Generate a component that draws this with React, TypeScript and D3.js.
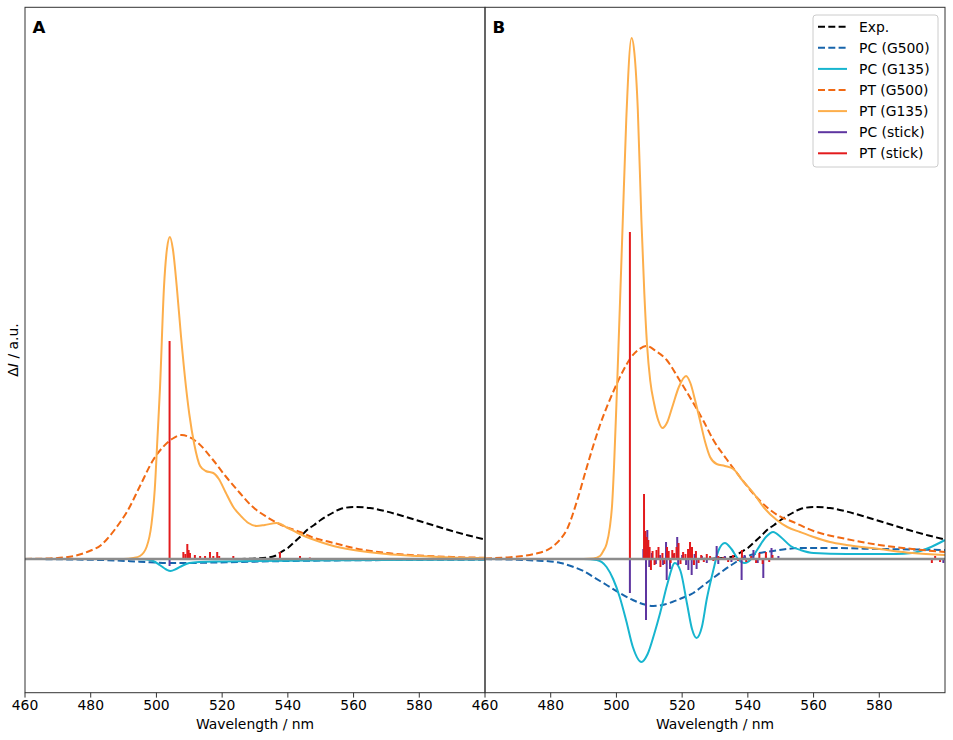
import React from "react";
import * as d3 from "d3";

type Pt = [number, number];

// ---------- DATA (wavelength nm, ΔI a.u.) ----------
const xTicks = [460, 480, 500, 520, 540, 560, 580];
const panelLetters = ["A", "B"];
const legendLabels = ["Exp.", "PC (G500)", "PC (G135)", "PT (G500)", "PT (G135)", "PC (stick)", "PT (stick)"];

const expData: Pt[] = [
  [525, 0], [530, 0.5], [534, 1.5], [536, 3], [538, 7], [540, 11], [542, 17], [544, 23], [546, 29.5],
  [548, 34], [550, 39], [553, 45], [556, 50], [560, 52], [565, 51], [570, 47.5], [575, 43], [580, 38],
  [585, 33], [590, 28], [595, 23.5], [600, 19.5],
];

// Panel A
const pcG500A: Pt[] = [
  [460, 0], [475, -0.5], [485, -1.2], [492, -2.2], [498, -3.2], [504, -4], [510, -4], [518, -3.5],
  [528, -2.8], [540, -2], [555, -1.4], [575, -1], [600, -0.6],
];
const pcG135A: Pt[] = [
  [460, 0], [494, 0], [497, -0.5], [499, -2], [501, -6], [503, -10.5], [504.3, -12], [506, -10],
  [508, -6.5], [510, -4], [513, -3], [520, -2.5], [530, -2], [545, -1.5], [570, -1], [600, -0.6],
];
const ptG500A: Pt[] = [
  [460, 0.1], [465, 0.3], [470, 1], [475, 3], [480, 8.5], [483, 13.5], [485, 20], [487, 28],
  [489, 37], [491, 47], [495, 73], [499, 99], [502, 112], [505, 120.5], [507.7, 124], [510, 122],
  [513, 115], [517, 100], [521, 83], [525.4, 66], [529, 53], [533.6, 42], [538, 34], [543.7, 27],
  [548, 21], [552.8, 17], [560, 11], [570, 6], [580, 3.5], [590, 2], [600, 1.2],
];
const ptG135A: Pt[] = [
  [460, 0], [490, 0], [493, 1], [495, 3], [497, 12], [498.5, 35], [499.5, 70], [500.3, 120],
  [501.1, 172], [502.3, 272], [503.2, 310], [504.1, 322], [505, 310], [506.2, 272], [507.5, 222],
  [509, 172], [510, 145], [511.5, 115], [513.3, 93], [515, 88], [517.3, 86], [519, 80], [521, 67],
  [523.4, 52], [526, 42], [528, 36], [530.5, 33], [533, 34], [536.6, 36], [540, 31], [543, 26],
  [545.7, 22], [549, 18], [552.8, 14], [560, 9], [570, 5], [580, 3], [590, 1.5], [600, 1],
];
const pcStickA: Pt[] = [[504.0, -7], [509.4, -1], [537.6, -1]];
const ptStickA: Pt[] = [
  [504.0, 218], [508.2, 7], [508.8, 5], [509.4, 15], [509.8, 9], [510.2, 6], [511.7, 4], [513.3, 3],
  [514.8, 3], [516.3, 7], [517.3, 3], [518.5, 7], [519.1, 3], [523.4, 3], [537.6, 7], [543.7, 3],
  [546.7, 1.5],
];

// Panel B
const pcG500B: Pt[] = [
  [460, 0], [470, -0.8], [475, -1.5], [480, -2.5], [483, -4], [487, -8], [490, -12], [493, -18],
  [497, -26], [501, -34], [505, -41], [508, -45], [511.2, -47], [514, -46], [517, -43], [520, -39],
  [523.4, -34], [527, -25], [531.5, -14], [535, -6], [538.5, 1], [542, 5], [547.7, 8], [552, 10],
  [556, 11], [565, 11], [580, 10], [590, 9.5], [600, 9],
];
const pcG135B: Pt[] = [
  [460, 0], [490, 0], [494, -1], [497, -8], [499, -20], [501, -38], [503, -62], [505, -88],
  [507.6, -103], [509.5, -95], [511.5, -75], [513.3, -54], [515.5, -25], [517.8, -4], [519.5, -12],
  [521.5, -45], [523, -70], [524.4, -79], [526, -68], [527.5, -40], [529.5, -11], [531, 8], [533, 16],
  [535, 10], [537, 0], [539, -4], [541, 0], [543, 10], [545.5, 22], [547.7, 27], [550, 22], [553, 13],
  [556, 9], [560, 6], [570, 5], [580, 5], [585, 5], [590, 6], [595, 11], [600, 19],
];
const ptG500B: Pt[] = [
  [460, 0.5], [465, 1.2], [470, 2.5], [475, 5], [480, 11], [483, 20], [485, 30], [488, 58],
  [491, 92], [495, 134], [499, 167], [502, 188], [504.1, 200], [507, 210], [509.1, 213], [512, 208],
  [515.3, 199], [519, 180], [523.4, 156], [526.5, 138], [529.5, 119], [533.5, 100], [537.6, 82],
  [541.5, 66], [545.7, 52], [549.5, 43], [553.8, 37], [560, 28], [570, 20], [580, 14], [590, 10],
  [600, 7],
];
const ptG135B: Pt[] = [
  [460, 0], [490, 0], [493, 0.5], [495, 3], [496, 8], [497, 15], [498, 32], [498.7, 55], [499.3, 95],
  [500, 155], [500.6, 210], [501.9, 335], [503, 440], [504.6, 521], [505.5, 505], [506.5, 450],
  [507.6, 339], [508.5, 265], [509.3, 215], [510.3, 178], [511.5, 155], [512.8, 138], [514, 131],
  [515.5, 137], [517, 152], [519, 172], [521.2, 183], [522.5, 176], [524, 158], [525.4, 139],
  [527, 117], [528.5, 102], [530.5, 95], [533, 93], [535.6, 90], [538, 80], [541.7, 66], [545, 51],
  [548.8, 39], [552, 32], [555.9, 27], [560, 22], [565, 17], [570, 14], [580, 10], [590, 6], [600, 4],
];
const pcStickB: Pt[] = [
  [504.1, -34], [508.2, 10], [509.0, -61], [509.4, 29], [510, -8], [510.8, 6], [512, -5], [513.3, 4],
  [514.2, -6], [515.1, 17], [515.3, -21], [516.3, -10], [517.2, 5], [518.5, 22], [518.8, -6],
  [520, 4], [521.2, -6], [521.9, -11], [522.9, -16], [523.8, 5], [524.4, -10], [526, 3],
  [527.5, -4], [530.5, 13], [531, -5], [533, 3], [535, -3], [538.1, -21], [539, 4], [541.7, 9],
  [543, -4], [544.7, -19], [545.5, 3], [547.2, 11], [549.3, 3], [599.5, -4],
];
const ptStickB: Pt[] = [
  [504.1, 327], [508.4, 65], [508.8, 28], [509.2, 22], [509.7, 19], [510.1, 12], [510.5, -11],
  [511, 8], [511.6, -6], [512.2, 9], [512.8, 12], [513.4, -8], [514, 6], [514.6, -5], [515.4, 12],
  [515.9, 8], [516.5, -4], [517, 9], [517.6, 6], [518.3, 12], [518.9, 16], [519.5, -5], [520.3, 7],
  [521, 5], [521.8, 10], [522.4, 17], [523, 12], [523.6, -6], [524.2, 8], [525, -4], [525.8, 4],
  [526.6, -3], [527.5, 5], [528.5, 3], [529.5, -2], [531, 3], [532.5, 2], [534, -3], [535.5, 4],
  [537, -2], [538.2, 9], [539.5, -3], [541, 3], [542.5, -4], [543.5, 6], [544.5, -5], [545.5, 7],
  [546.5, -3], [547.5, 4], [596, -4], [597, 3], [598.5, -3],
];

// ---------- STYLE ----------
const C = {
  exp: "#000000",
  pcG500: "#1764ab",
  pcG135: "#17b5cf",
  ptG500: "#f16913",
  ptG135: "#fdae4b",
  pcStick: "#5e35a0",
  ptStick: "#e31a1c",
};
const FONT = "DejaVu Sans, sans-serif";
const W = 953, H = 740;
const top = 7.3, bottom = 692.7;
const DASH = "7,3.3";

const y = d3.scaleLinear().domain([-133.7, 551.7]).range([bottom, top]);

const panels = [
  {
    x: d3.scaleLinear().domain([460, 600]).range([25, 485]),
    pcG500: pcG500A, pcG135: pcG135A, ptG500: ptG500A, ptG135: ptG135A, pcStick: pcStickA, ptStick: ptStickA,
  },
  {
    x: d3.scaleLinear().domain([460, 600]).range([485, 945]),
    pcG500: pcG500B, pcG135: pcG135B, ptG500: ptG500B, ptG135: ptG135B, pcStick: pcStickB, ptStick: ptStickB,
  },
];

function Panel({ p, i }: { p: (typeof panels)[number]; i: number }) {
  const x = p.x;
  const [x0, x1] = x.range();
  const line = d3.line<Pt>().x((d) => x(d[0])).y((d) => y(d[1])).curve(d3.curveMonotoneX);
  const clipId = `clip${i}`;
  const sticks = (data: Pt[], color: string) =>
    data.map((d, k) => (
      <line key={k} x1={x(d[0])} x2={x(d[0])} y1={y(0)} y2={y(d[1])} stroke={color} strokeWidth={2} />
    ));
  return (
    <g>
      <defs>
        <clipPath id={clipId}>
          <rect x={x0} y={top} width={x1 - x0} height={bottom - top} />
        </clipPath>
      </defs>
      <g clipPath={`url(#${clipId})`}>
        <path d={line(expData) || ""} fill="none" stroke={C.exp} strokeWidth={2} strokeDasharray={DASH} />
        <path d={line(p.pcG500) || ""} fill="none" stroke={C.pcG500} strokeWidth={2} strokeDasharray={DASH} />
        <path d={line(p.pcG135) || ""} fill="none" stroke={C.pcG135} strokeWidth={2} />
        <path d={line(p.ptG500) || ""} fill="none" stroke={C.ptG500} strokeWidth={2} strokeDasharray={DASH} />
        <path d={line(p.ptG135) || ""} fill="none" stroke={C.ptG135} strokeWidth={2} />
        {sticks(p.pcStick, C.pcStick)}
        {sticks(p.ptStick, C.ptStick)}
        <line x1={x0} x2={x1} y1={y(0)} y2={y(0)} stroke="#8c8c8c" strokeWidth={2.5} />
      </g>
      <rect x={x0} y={top} width={x1 - x0} height={bottom - top} fill="none" stroke="#333" strokeWidth={1} />
      {xTicks.map((t) => (
        <g key={t}>
          <line x1={x(t)} x2={x(t)} y1={bottom} y2={bottom + 4.9} stroke="#333" strokeWidth={1} />
          <text x={x(t)} y={710} textAnchor="middle" fontFamily={FONT} fontSize={13.9} fill="#000">
            {t}
          </text>
        </g>
      ))}
      <text x={(x0 + x1) / 2} y={729} textAnchor="middle" fontFamily={FONT} fontSize={13.9} fill="#000">
        Wavelength / nm
      </text>
      <text x={x0 + 7.5} y={32.7} fontFamily={FONT} fontSize={16.7} fontWeight="bold" fill="#000">
        {panelLetters[i]}
      </text>
    </g>
  );
}

function Legend() {
  const styles = [
    { c: C.exp, dash: true },
    { c: C.pcG500, dash: true },
    { c: C.pcG135, dash: false },
    { c: C.ptG500, dash: true },
    { c: C.ptG135, dash: false },
    { c: C.pcStick, dash: false },
    { c: C.ptStick, dash: false },
  ];
  const bx = 813, by = 15, bw = 125, bh = 152;
  return (
    <g>
      <rect x={bx} y={by} width={bw} height={bh} rx={3} fill="#fff" fillOpacity={0.8} stroke="#cccccc" strokeWidth={1} />
      {legendLabels.map((lab, k) => {
        const ry = 26.7 + k * 21.1;
        return (
          <g key={lab}>
            <line x1={818} x2={847} y1={ry} y2={ry} stroke={styles[k].c} strokeWidth={2}
              strokeDasharray={styles[k].dash ? DASH : undefined} />
            <text x={859} y={ry + 5} fontFamily={FONT} fontSize={13.9} fill="#000">{lab}</text>
          </g>
        );
      })}
    </g>
  );
}

export default function App() {
  return (
    <svg width={W} height={H} style={{ position: "absolute", left: 0, top: 0, background: "#fff" }}>
      <rect x={0} y={0} width={W} height={H} fill="#fff" />
      {panels.map((p, i) => (
        <Panel key={i} p={p} i={i} />
      ))}
      <Legend />
      <text transform={`translate(18,350) rotate(-90)`} textAnchor="middle" fontFamily={FONT} fontSize={13.9} fill="#000">
        Δ<tspan fontStyle="italic">I</tspan> / a.u.
      </text>
    </svg>
  );
}
